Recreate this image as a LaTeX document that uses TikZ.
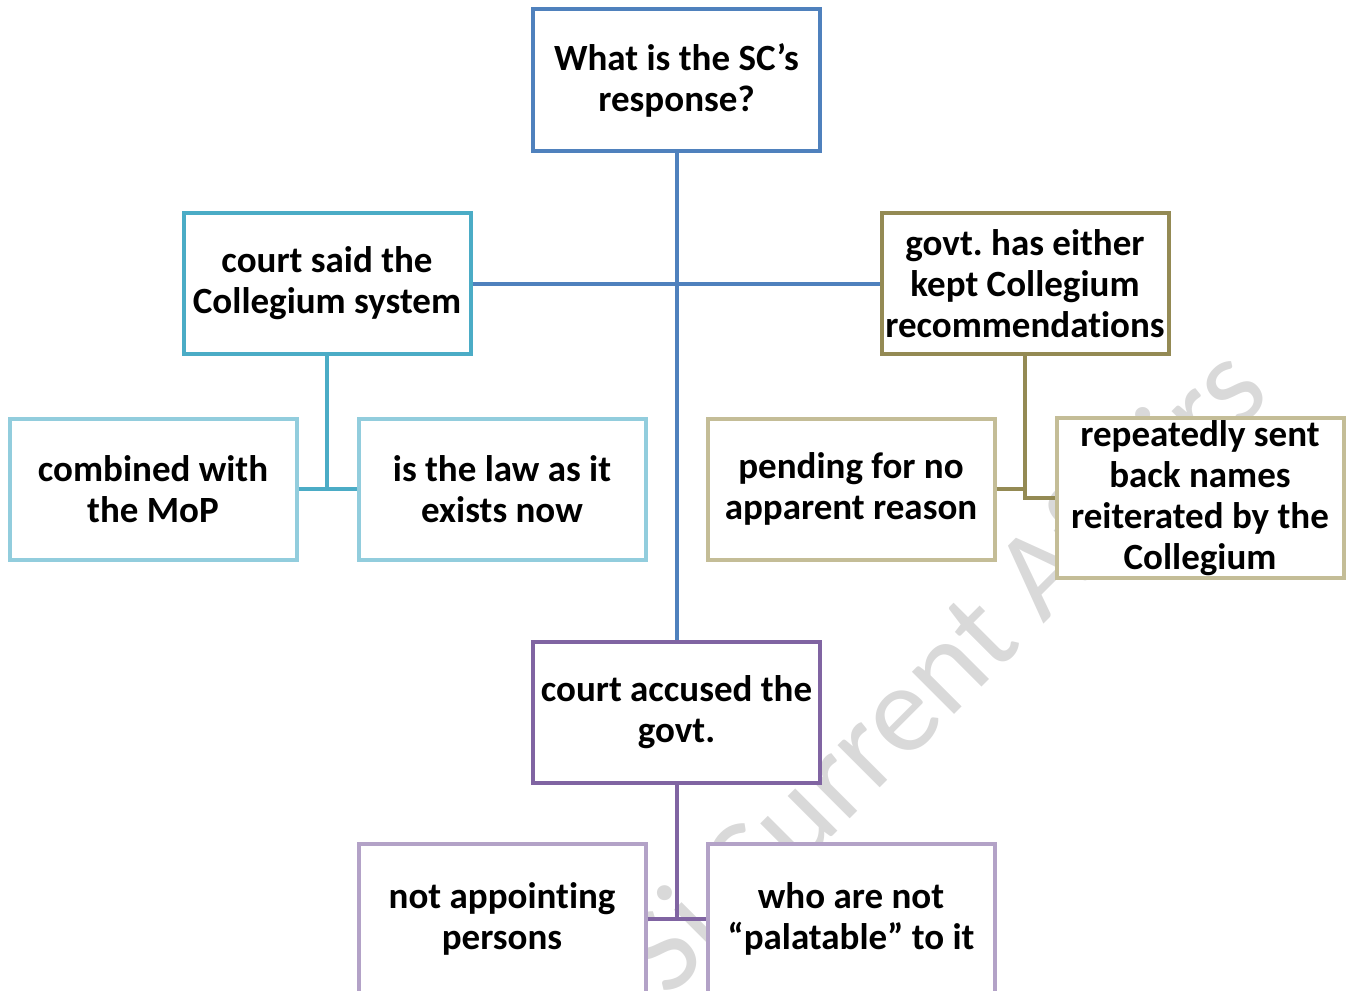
\documentclass[tikz,border=0pt]{standalone}
\usepackage{fontspec}
\setmainfont[Ligatures=NoCommon]{Carlito}
\usetikzlibrary{calc}

\definecolor{scblue}{RGB}{79,129,189}
\definecolor{scteal}{RGB}{75,172,198}
\definecolor{scteallt}{RGB}{146,205,221}
\definecolor{scolive}{RGB}{148,138,84}
\definecolor{scolivelt}{RGB}{196,189,151}
\definecolor{scpurple}{RGB}{128,100,162}
\definecolor{scpurplelt}{RGB}{179,162,199}
\definecolor{wmgray}{RGB}{217,217,217}

\begin{document}
\begin{tikzpicture}[
  x=1pt, y=-1pt,
  every node/.style={font=\fontsize{37}{41}\selectfont\bfseries},
  qbox/.style={rectangle, draw=#1, line width=4pt, fill=white, inner sep=0pt,
    minimum width=287pt, minimum height=141pt, align=center},
  link/.style={line width=4pt, #1},
  wmark/.style={font=\fontsize{125}{125}\selectfont, text=wmgray}
]
\useasboundingbox (0,0) rectangle (1351,990);

% ====== WATERMARK ======
\node[wmark, rotate=45] (wm) at (948,675) {Sj Current Affairs};

% ====== ROOT ======
\node[qbox=scblue] (question) at (676.5,80) {What is the SC’s\\ response?};

% ====== FIRST LEVEL ======
\node[qbox=scteal] (saidsys) at (327,283.5) {court said the\\ Collegium system};
\node[qbox=scolive] (govtkept) at (1025,283.5) {govt.\ has either\\ kept Collegium\\ recommendations};
\node[qbox=scpurple] (accused) at (676.5,712.5) {court accused the\\ govt.};

% ====== SECOND LEVEL ======
\node[qbox=scteallt] (combined) at (153,489) {combined with\\ the MoP};
\node[qbox=scteallt] (lawnow) at (502,489) {is the law as it\\ exists now};
\node[qbox=scolivelt] (pending) at (851,489) {pending for no\\ apparent reason};
\node[qbox=scolivelt, minimum height=160pt] (sentback) at (1200,498)
  {repeatedly sent\\ back names\\ reiterated by the\\ Collegium};
\node[qbox=scpurplelt, minimum height=150pt] (notappoint) at (502,919) {not appointing\\ persons};
\node[qbox=scpurplelt, minimum height=150pt] (palatable) at (851,919) {who are not\\ “palatable” to it};

% ====== CONNECTORS ======
\draw[link=scblue] (question.south) -- (accused.north);
\draw[link=scblue] (saidsys.east) -- (govtkept.west);

\draw[link=scteal] (saidsys.south) -- (saidsys.south |- combined.east);
\draw[link=scteal] (combined.east) -- (lawnow.west);

\draw[link=scolive] (govtkept.south) -- (govtkept.south |- sentback.west) -- (sentback.west);
\draw[link=scolive] (pending.east) -- (govtkept.south |- pending.east);

\draw[link=scpurple] (accused.south) -- (accused.south |- notappoint.east);
\draw[link=scpurple] (notappoint.east) -- (palatable.west);

\end{tikzpicture}
\end{document}
